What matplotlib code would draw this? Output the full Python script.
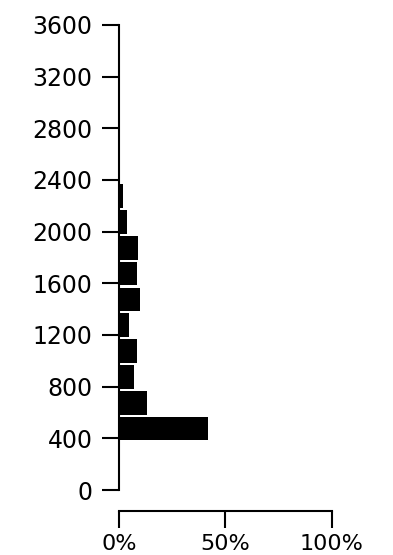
import matplotlib
matplotlib.use("Agg")
import matplotlib.pyplot as plt
from matplotlib.ticker import FuncFormatter

# Data: histogram bins (lower edges) and share of observations (%)
bin_lower = [375, 575, 775, 975, 1175, 1375, 1575, 1775, 1975, 2175]
bin_width = 200
share_pct = [41.7, 13.0, 6.9, 8.3, 4.7, 9.9, 8.5, 8.9, 3.8, 1.7]
y_ticks = [0, 400, 800, 1200, 1600, 2000, 2400, 2800, 3200, 3600]
x_ticks = [0, 50, 100]

plt.rcParams['font.family'] = ['DejaVu Sans']

fig = plt.figure(figsize=(3.93, 5.55), dpi=100)
ax = fig.add_axes([119/393, 1 - 490/555, (331.7 - 119)/393, (490 - 25)/555])

centers = [b + bin_width / 2 for b in bin_lower]
ax.barh(centers, share_pct, height=bin_width * 0.915, color='black', linewidth=0)

ax.set_xlim(0, 100)
ax.set_ylim(0, 3600)
ax.set_yticks(y_ticks)
ax.set_xticks(x_ticks)
ax.xaxis.set_major_formatter(FuncFormatter(lambda v, p: f"{int(v)}%"))

for s in ['top', 'right']:
    ax.spines[s].set_visible(False)
ax.spines['left'].set_bounds(0, 3600)
ax.spines['bottom'].set_bounds(0, 100)
ax.spines['bottom'].set_position(('outward', 15))
for s in ['left', 'bottom']:
    ax.spines[s].set_linewidth(1.5)
    ax.spines[s].set_color('black')

ax.tick_params(axis='both', length=12, width=1.5, color='black',
               labelsize=16, labelcolor='black')
ax.tick_params(axis='y', pad=7, labelsize=17)
ax.tick_params(axis='x', pad=5)

fig.savefig("out.png", dpi=100)
